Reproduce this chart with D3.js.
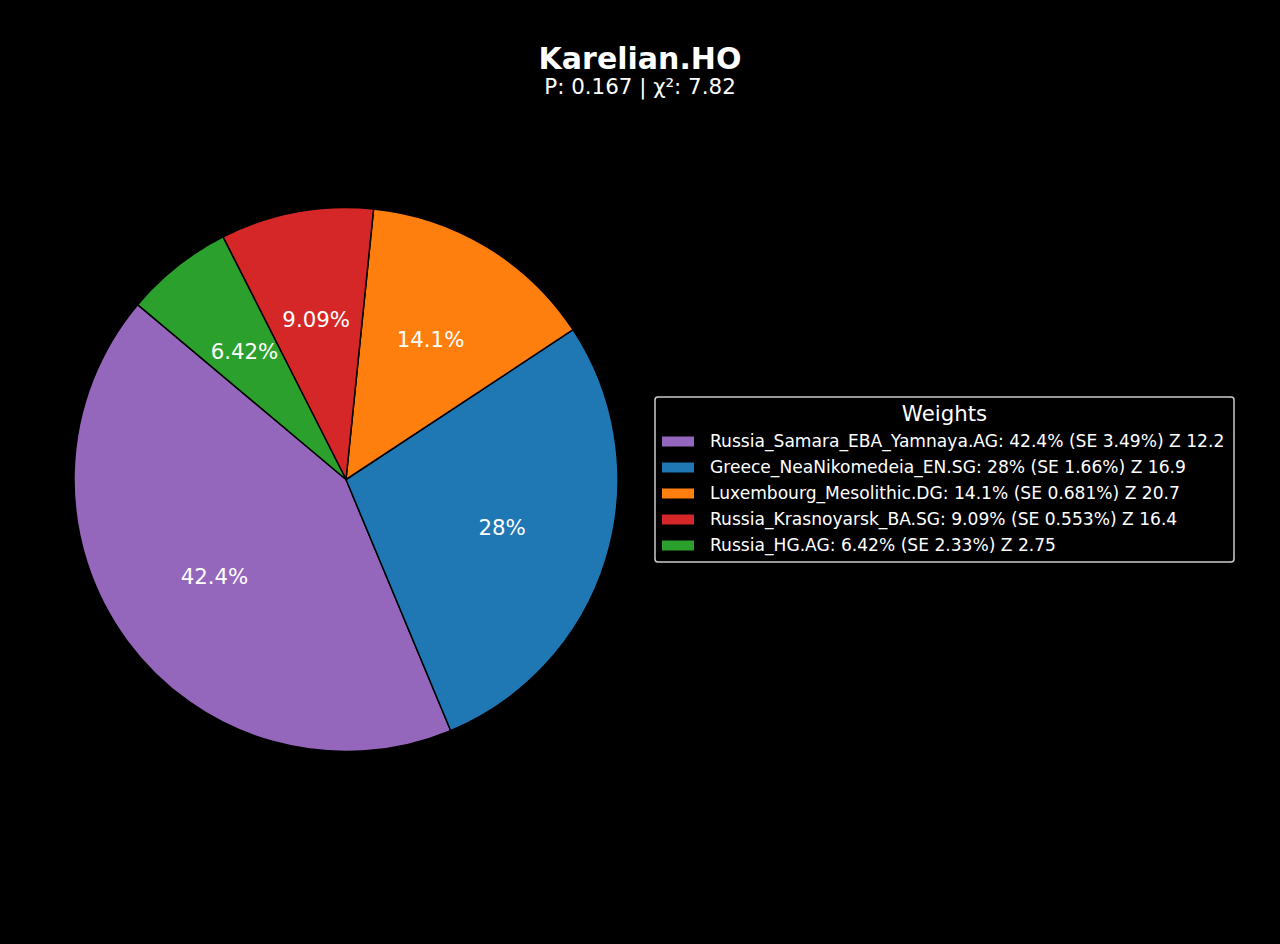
<!DOCTYPE html>
<html><head><meta charset="utf-8">
<script src="https://cdn.jsdelivr.net/npm/d3@7"></script>
<style>html,body{margin:0;padding:0;background:#000;}svg{display:block;font-family:"DejaVu Sans",sans-serif;}</style>
</head><body>
<svg id="chart" width="1280" height="944"></svg>
<script>
const categories = ["Russia_Samara_EBA_Yamnaya.AG","Greece_NeaNikomedeia_EN.SG","Luxembourg_Mesolithic.DG","Russia_Krasnoyarsk_BA.SG","Russia_HG.AG"];
const weights = [42.4, 28, 14.1, 9.09, 6.42];
const seValues = ["3.49%","1.66%","0.681%","0.553%","2.33%"];
const zValues = ["12.2","16.9","20.7","16.4","2.75"];
const pctLabels = ["42.4%","28%","14.1%","9.09%","6.42%"];
const colors = ["#9467bd","#1f77b4","#ff7f0e","#d62728","#2ca02c"];
const titleText = "Karelian.HO";
const subtitleText = "P: 0.167 | χ²: 7.82";
const legendTitle = "Weights";

const svg = d3.select("#chart");
svg.append("rect").attr("width",1280).attr("height",944).attr("fill","#000");

svg.append("text").attr("x",640).attr("y",68.5).attr("text-anchor","middle")
  .attr("fill","#fff").attr("font-weight","bold").attr("font-size",30).text(titleText);
svg.append("text").attr("x",640).attr("y",94).attr("text-anchor","middle")
  .attr("fill","#fff").attr("font-size",21.4).text(subtitleText);

const cx = 346, cy = 479.5, R = 272;
const start = (90-140)*Math.PI/180;
const pie = d3.pie().sort(null).value(d=>d).startAngle(start).endAngle(start-2*Math.PI);
const arcs = pie(weights);
const arc = d3.arc().innerRadius(0).outerRadius(R);
const labelArc = d3.arc().innerRadius(R*0.6).outerRadius(R*0.6);
const g = svg.append("g").attr("transform",`translate(${cx},${cy})`);
g.selectAll("path").data(arcs).join("path")
  .attr("d",arc).attr("fill",(d,i)=>colors[i]).attr("stroke","#000").attr("stroke-width",1.5).attr("stroke-linejoin","round");
g.selectAll("text").data(arcs).join("text")
  .attr("transform",d=>`translate(${labelArc.centroid(d)})`)
  .attr("text-anchor","middle").attr("dominant-baseline","central")
  .attr("fill","#fff").attr("font-size",21.3).text((d,i)=>pctLabels[i]);

// legend
const lx = 655, ly = 397, lw = 579, lh = 165;
const lg = svg.append("g");
lg.append("rect").attr("x",lx).attr("y",ly).attr("width",lw).attr("height",lh).attr("rx",3)
  .attr("fill","#000").attr("stroke","#cccccc").attr("stroke-width",1.5);
lg.append("text").attr("x",lx+lw/2).attr("y",ly+24).attr("text-anchor","middle")
  .attr("fill","#fff").attr("font-size",21.3).text(legendTitle);
const rowY = d3.scalePoint().domain(d3.range(categories.length)).range([441,545]);
categories.forEach((c,i)=>{
  const y = rowY(i);
  lg.append("rect").attr("x",662).attr("y",y-4.5).attr("width",32).attr("height",10).attr("fill",colors[i]);
  lg.append("text").attr("x",710).attr("y",y).attr("dominant-baseline","central")
    .attr("fill","#fff").attr("font-size",17.1)
    .text(`${c}: ${pctLabels[i]} (SE ${seValues[i]}) Z ${zValues[i]}`);
});
</script>
</body></html>
